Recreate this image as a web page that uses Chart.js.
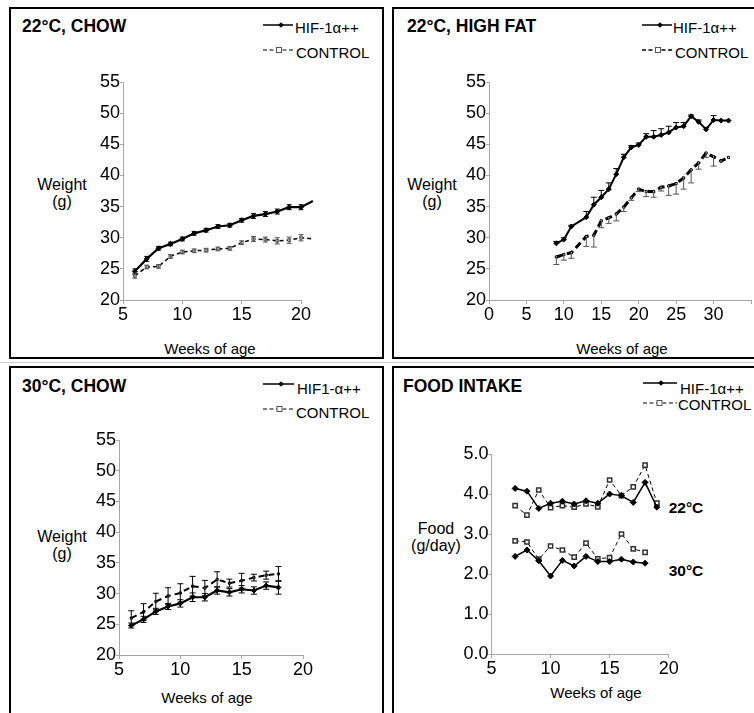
<!DOCTYPE html>
<html>
<head>
<meta charset="utf-8">
<script src="https://cdn.jsdelivr.net/npm/chart.js@4/dist/chart.umd.min.js"></script>
<style>
  html, body { margin:0; padding:0; background:#fff; width:754px; height:713px; overflow:hidden; position:relative;
    font-family:'Liberation Sans', Arial, sans-serif; color:#000; }
  .panel { position:absolute; border:2px solid #000; box-sizing:border-box; }
  .t { position:absolute; white-space:nowrap; line-height:1; }
  .title { font-weight:bold; font-size:17.5px; transform:translateY(-50%); }
  .leg { font-size:15px; transform:translateY(-50%); }
  .ylab { font-size:16px; transform:translate(-50%,-50%); text-align:center; line-height:1.05; }
  .xlab { font-size:15px; transform:translate(-50%,-50%); }
  .ann { font-weight:bold; font-size:15.5px; transform:translate(-50%,-50%); }
  canvas { position:absolute; }
  svg { position:absolute; left:0; top:0; overflow:visible; }
</style>
</head>
<body>
<div class="panel" style="left:9px;top:7px;width:375px;height:352px"></div>
<div class="panel" style="left:392px;top:7px;width:380px;height:352px"></div>
<div style="position:absolute;left:0;top:362px;width:754px;height:1px;background:#d0d0d0"></div>
<div class="panel" style="left:9px;top:366px;width:375px;height:370px"></div>
<div class="panel" style="left:392px;top:366px;width:380px;height:370px"></div>

<div class="t title" style="left:22px;top:27px">22°C, CHOW</div>
<div class="t title" style="left:407px;top:27px">22°C, HIGH FAT</div>
<div class="t title" style="left:22px;top:387px">30°C, CHOW</div>
<div class="t title" style="left:403px;top:387px">FOOD INTAKE</div>

<div class="t leg" style="left:295px;top:27px">HIF-1α++</div>
<div class="t leg" style="left:296px;top:52px">CONTROL</div>
<div class="t leg" style="left:673px;top:27px">HIF-1α++</div>
<div class="t leg" style="left:675px;top:52px">CONTROL</div>
<div class="t leg" style="left:297px;top:388px">HIF1-α++</div>
<div class="t leg" style="left:296px;top:412px">CONTROL</div>
<div class="t leg" style="left:680px;top:388px">HIF-1α++</div>
<div class="t leg" style="left:678px;top:404px">CONTROL</div>

<div class="t ylab" style="left:62px;top:194px">Weight<br>(g)</div>
<div class="t ylab" style="left:432px;top:194px">Weight<br>(g)</div>
<div class="t ylab" style="left:62px;top:546px">Weight<br>(g)</div>
<div class="t ylab" style="left:436px;top:538px">Food<br>(g/day)</div>

<div class="t xlab" style="left:210px;top:348px">Weeks of age</div>
<div class="t xlab" style="left:622px;top:348px">Weeks of age</div>
<div class="t xlab" style="left:207px;top:697px">Weeks of age</div>
<div class="t xlab" style="left:596px;top:692px">Weeks of age</div>

<div class="t ann" style="left:686px;top:508px">22°C</div>
<div class="t ann" style="left:686px;top:571px">30°C</div>

<svg width="754" height="713">
  <line x1="263" y1="25" x2="293" y2="25" stroke="#000" stroke-width="1.5"/>
  <rect x="279" y="23" width="4" height="4" transform="rotate(45 281 25)" fill="#000"/>
  <line x1="263" y1="50" x2="293" y2="50" stroke="#000" stroke-width="1" stroke-dasharray="4,2.5"/>
  <rect x="276.5" y="47.5" width="5" height="5" fill="#fff" stroke="#555" stroke-width="1"/>
  <line x1="642" y1="25" x2="672" y2="25" stroke="#000" stroke-width="1.5"/>
  <rect x="658" y="23" width="4" height="4" transform="rotate(45 660 25)" fill="#000"/>
  <line x1="642" y1="50" x2="672" y2="50" stroke="#000" stroke-width="1.3" stroke-dasharray="4,2.5"/>
  <rect x="655.5" y="47.5" width="5" height="5" fill="#fff" stroke="#555" stroke-width="1"/>
  <line x1="263" y1="384" x2="294" y2="384" stroke="#000" stroke-width="1.5"/>
  <rect x="279" y="382" width="4" height="4" transform="rotate(45 281 384)" fill="#000"/>
  <line x1="263" y1="409" x2="294" y2="409" stroke="#000" stroke-width="1" stroke-dasharray="4,2.5"/>
  <rect x="277" y="406.5" width="5" height="5" fill="#fff" stroke="#555" stroke-width="1"/>
  <line x1="643" y1="383" x2="677" y2="383" stroke="#000" stroke-width="1.5"/>
  <rect x="659" y="381" width="4" height="4" transform="rotate(45 661 383)" fill="#000"/>
  <line x1="643" y1="403" x2="677" y2="403" stroke="#000" stroke-width="1" stroke-dasharray="4,2.5"/>
  <rect x="657" y="400.5" width="5" height="5" fill="#fff" stroke="#555" stroke-width="1"/>
</svg>

<script>
// ---------------- DATA ----------------
// Panel A: 22°C, chow
const chowWeeks   = [6, 7, 8, 9, 10, 11, 12, 13, 14, 15, 16, 17, 18, 19, 20, 21];
const chowHif     = [24.6, 26.6, 28.3, 29.0, 29.8, 30.7, 31.2, 31.8, 32.0, 32.8, 33.5, 33.8, 34.2, 34.9, 34.9, 35.9];
const chowHifErr  = [0.4, 0.4, 0.3, 0.3, 0.3, 0.3, 0.3, 0.3, 0.3, 0.3, 0.4, 0.4, 0.4, 0.4, 0.4, 0];
const chowCtrl    = [23.9, 25.3, 25.4, 27.0, 27.7, 27.9, 28.0, 28.2, 28.3, 29.2, 29.8, 29.7, 29.5, 29.6, 30.0, 29.8];
const chowCtrlErr = [0.4, 0.3, 0.3, 0.3, 0.3, 0.3, 0.3, 0.3, 0.3, 0.3, 0.4, 0.4, 0.5, 0.5, 0.5, 0];

// Panel B: 22°C, high fat
const hfWeeks       = [9, 10, 11, 13, 14, 15, 16, 17, 18, 19, 20, 21, 22, 23, 24, 25, 26, 27, 28, 29, 30, 31, 32];
const hfHif         = [29.1, 29.7, 31.8, 33.3, 35.3, 36.5, 37.8, 40.2, 42.9, 44.5, 44.9, 46.2, 46.2, 46.5, 46.9, 47.7, 47.9, 49.5, 48.6, 47.4, 48.9, 48.8, 48.8];
const hfHifErrUp    = [0.3, 0.3, 0.2, 0.9, 1.2, 1.1, 1.0, 0.9, 0.5, 0.3, 0.3, 0.5, 1.0, 1.0, 1.0, 0.8, 0.6, 0.2, 0.3, 0.3, 0.7, 0, 0];
const hfCtrl        = [26.9, 27.3, 27.6, 30.2, 30.4, 32.7, 33.2, 33.8, 34.9, 36.4, 37.8, 37.4, 37.4, 38.1, 38.3, 38.7, 39.6, 40.9, 42.0, 43.6, 43.0, 42.3, 42.9];
const hfCtrlErrDown = [1.2, 0.9, 0.9, 1.6, 1.9, 1.1, 0.9, 1.1, 0.7, 0.4, 0.4, 0.8, 0.9, 0.6, 1.5, 1.7, 1.8, 2.1, 1.0, 0.7, 1.5, 0, 0];

// Panel C: 30°C, chow
const warmWeeks   = [6, 7, 8, 9, 10, 11, 12, 13, 14, 15, 16, 17, 18];
const warmHif     = [24.8, 25.8, 27.1, 27.9, 28.4, 29.4, 29.4, 30.5, 30.2, 30.7, 30.5, 31.3, 31.0];
const warmHifErr  = [0.4, 0.5, 0.5, 0.5, 0.6, 0.7, 0.6, 0.6, 0.6, 0.6, 0.6, 0.6, 1.1];
const warmCtrl    = [26.0, 27.0, 28.7, 29.6, 30.1, 31.2, 30.9, 32.3, 31.7, 32.1, 32.6, 33.0, 33.2];
const warmCtrlErr = [1.2, 1.35, 1.35, 1.35, 1.5, 1.6, 1.25, 1.25, 0.65, 1.2, 0.55, 0.65, 1.2];

// Panel D: food intake
const food22Weeks = [7, 8, 9, 10, 11, 12, 13, 14, 15, 16, 17, 18, 19];
const food22Hif   = [4.14, 4.07, 3.64, 3.77, 3.82, 3.75, 3.83, 3.77, 4.00, 3.96, 3.79, 4.29, 3.67];
const food22Ctrl  = [3.71, 3.47, 4.10, 3.66, 3.71, 3.67, 3.75, 3.68, 4.35, 3.96, 4.18, 4.72, 3.77];
const food30Weeks = [7, 8, 9, 10, 11, 12, 13, 14, 15, 16, 17, 18];
const food30Hif   = [2.44, 2.60, 2.33, 1.95, 2.34, 2.20, 2.44, 2.31, 2.31, 2.37, 2.30, 2.27];
const food30Ctrl  = [2.83, 2.80, 2.37, 2.70, 2.60, 2.42, 2.77, 2.38, 2.41, 3.00, 2.63, 2.54];

// Tick labels
const weightTicks = [20, 25, 30, 35, 40, 45, 50, 55];
const chowXTicks  = [5, 10, 15, 20];
const hfXTicks    = [0, 5, 10, 15, 20, 25, 30];
const foodYTicks  = ['0.0', '1.0', '2.0', '3.0', '4.0', '5.0'];

// ---------------- HELPERS ----------------
const FONT = "'Liberation Sans', Arial, sans-serif";
const pts = (xs, ys) => xs.map((x, i) => ({ x: x, y: ys[i] }));

const errorBars = {
  id: 'errorBars',
  afterDatasetsDraw(chart) {
    const ctx = chart.ctx, xs = chart.scales.x, ys = chart.scales.y;
    chart.data.datasets.forEach(ds => {
      if (!ds.errUp && !ds.errDown) return;
      ctx.save();
      ctx.setLineDash([]);
      ctx.strokeStyle = ds.errColor || '#000';
      ctx.lineWidth = ds.errWidth || 1;
      const cap = ds.errCap || 3;
      ds.data.forEach((p, j) => {
        const up = ds.errUp ? ds.errUp[j] : 0;
        const dn = ds.errDown ? ds.errDown[j] : 0;
        if (!up && !dn) return;
        const x = xs.getPixelForValue(p.x);
        const yT = ys.getPixelForValue(p.y + up);
        const yB = ys.getPixelForValue(p.y - dn);
        ctx.beginPath();
        ctx.moveTo(x, yT); ctx.lineTo(x, yB);
        if (up) { ctx.moveTo(x - cap, yT); ctx.lineTo(x + cap, yT); }
        if (dn) { ctx.moveTo(x - cap, yB); ctx.lineTo(x + cap, yB); }
        ctx.stroke();
      });
      ctx.restore();
    });
  }
};

function makeChart(box, area, datasets, sc) {
  const cv = document.createElement('canvas');
  cv.width = box.w; cv.height = box.h;
  cv.style.left = box.l + 'px'; cv.style.top = box.t + 'px';
  cv.style.width = box.w + 'px'; cv.style.height = box.h + 'px';
  document.body.appendChild(cv);
  const yW = 46, xH = 30;
  const pad = {
    left: area.x0 - box.l - yW,
    right: box.l + box.w - area.x1,
    top: area.y0 - box.t,
    bottom: box.t + box.h - area.y1 - xH
  };
  const axisColor = '#a6a6a6';
  const gridCfg = { display: true, drawOnChartArea: false, drawTicks: true, tickLength: 4, color: axisColor, lineWidth: 1 };
  new Chart(cv, {
    type: 'line',
    data: { datasets: datasets },
    options: {
      responsive: false, maintainAspectRatio: false, animation: false, devicePixelRatio: 1,
      layout: { padding: pad },
      plugins: { legend: { display: false }, tooltip: { enabled: false } },
      scales: {
        x: {
          type: 'linear', bounds: 'data',
          afterDataLimits: s => { s.min = sc.xMin; s.max = sc.xMax; },
          afterFit: s => { s.height = xH; },
          afterBuildTicks: s => { s.ticks = sc.xVals.map(v => ({ value: v })); s.min = sc.xMin; s.max = sc.xMax; },
          ticks: { color: '#000', font: { family: FONT, size: 18 }, padding: 0, maxRotation: 0, autoSkip: false,
                   callback: v => (sc.xLabels.includes(v) ? String(v) : '') },
          grid: gridCfg,
          border: { display: true, color: axisColor, width: 1 }
        },
        y: {
          type: 'linear', bounds: 'data',
          afterDataLimits: s => { s.min = sc.yMin; s.max = sc.yMax; },
          afterFit: s => { s.width = yW; },
          afterBuildTicks: s => { s.ticks = sc.yVals.map(v => ({ value: v })); s.min = sc.yMin; s.max = sc.yMax; },
          ticks: { color: '#000', font: { family: FONT, size: 18 }, padding: 0, autoSkip: false,
                   callback: sc.yLabel },
          grid: Object.assign({}, gridCfg, { tickLength: 3 }),
          border: { display: true, color: axisColor, width: 1 }
        }
      }
    },
    plugins: [errorBars]
  });
}

function hifSet(data, o) {
  return Object.assign({
    data: data, borderColor: '#000', backgroundColor: '#000', borderWidth: 2.2,
    pointStyle: 'rectRot', pointRadius: 2.5, pointBackgroundColor: '#000', pointBorderColor: '#000',
    pointBorderWidth: 1, tension: 0, clip: false, fill: false
  }, o || {});
}
function ctrlSet(data, o) {
  return Object.assign({
    data: data, borderColor: '#000', backgroundColor: '#fff', borderWidth: 1.5, borderDash: [4, 3],
    pointStyle: 'rect', pointRadius: 2, pointBackgroundColor: '#fff', pointBorderColor: '#555',
    pointBorderWidth: 1, tension: 0, clip: false, fill: false
  }, o || {});
}

const weightY = { yMin: 20, yMax: 55, yVals: weightTicks, yLabel: v => (weightTicks.includes(v) ? String(v) : '') };

// Panel A
makeChart({ l: 11, t: 9, w: 371, h: 348 }, { x0: 123, x1: 301, y0: 82, y1: 300 }, [
  hifSet(pts(chowWeeks, chowHif), { errUp: chowHifErr, errDown: chowHifErr, errColor: '#000', errCap: 2.5 }),
  ctrlSet(pts(chowWeeks, chowCtrl), { errUp: chowCtrlErr, errDown: chowCtrlErr, errColor: '#555', errCap: 2.5 })
], Object.assign({ xMin: 5, xMax: 20, xVals: chowXTicks, xLabels: chowXTicks }, weightY));

// Panel B
makeChart({ l: 394, t: 9, w: 400, h: 348 }, { x0: 489, x1: 751, y0: 82, y1: 300 }, [
  hifSet(pts(hfWeeks, hfHif), { borderWidth: 2, errUp: hfHifErrUp, errColor: '#000', errCap: 3 }),
  ctrlSet(pts(hfWeeks, hfCtrl), { borderWidth: 3, borderDash: [7, 4], pointRadius: 1.5, pointBorderColor: '#000',
    errDown: hfCtrlErrDown, errColor: '#555', errCap: 3 })
], Object.assign({ xMin: 0, xMax: 35, xVals: [0, 5, 10, 15, 20, 25, 30, 35], xLabels: hfXTicks }, weightY));

// Panel C
makeChart({ l: 11, t: 368, w: 371, h: 345 }, { x0: 119, x1: 303, y0: 440, y1: 655 }, [
  hifSet(pts(warmWeeks, warmHif), { errUp: warmHifErr, errDown: warmHifErr, errColor: '#000', errCap: 3 }),
  ctrlSet(pts(warmWeeks, warmCtrl), { borderWidth: 2, borderDash: [6, 4], pointRadius: 1.5, pointBorderColor: '#000',
    errUp: warmCtrlErr, errDown: warmCtrlErr, errColor: '#000', errCap: 3 })
], Object.assign({ xMin: 5, xMax: 20, xVals: chowXTicks, xLabels: chowXTicks }, weightY));

// Panel D
const foodSc = { xMin: 5, xMax: 20, xVals: chowXTicks, xLabels: chowXTicks,
  yMin: 0, yMax: 5, yVals: [0, 1, 2, 3, 4, 5], yLabel: v => foodYTicks[v] || '' };
const fHif = { borderWidth: 1.5, pointRadius: 3 };
const fCtrl = { borderWidth: 1, borderDash: [4, 3], pointRadius: 3, pointBorderColor: '#333', pointBorderWidth: 1.5 };
makeChart({ l: 394, t: 368, w: 400, h: 345 }, { x0: 491.5, x1: 668.7, y0: 454, y1: 654 }, [
  hifSet(pts(food22Weeks, food22Hif), fHif),
  ctrlSet(pts(food22Weeks, food22Ctrl), fCtrl),
  hifSet(pts(food30Weeks, food30Hif), fHif),
  ctrlSet(pts(food30Weeks, food30Ctrl), fCtrl)
], foodSc);
</script>
</body>
</html>
